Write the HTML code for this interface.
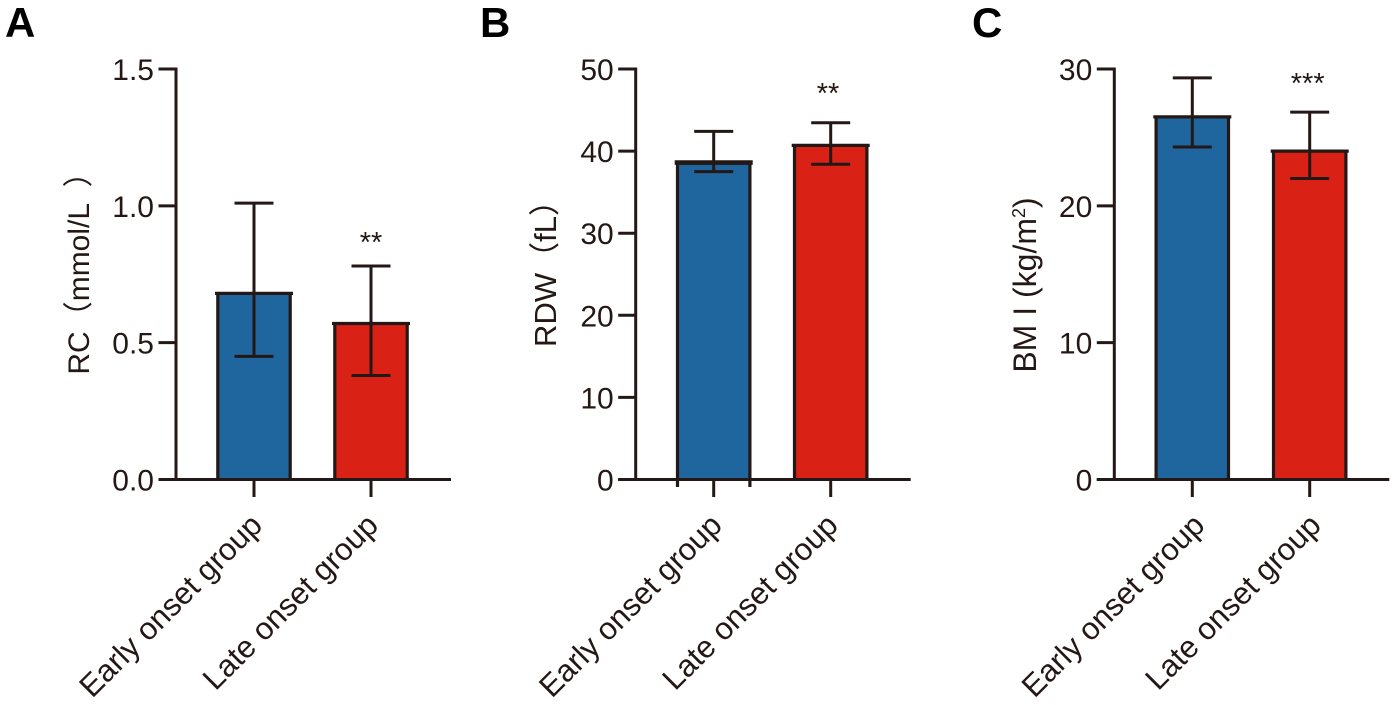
<!DOCTYPE html>
<html>
<head>
<meta charset="utf-8">
<title>Bar charts of RC, RDW and BMI by onset group</title>
<style>
html,body{margin:0;padding:0;background:#fff;width:1395px;height:705px;overflow:hidden}
svg{display:block}
text{font-family:"Liberation Sans","Noto Sans CJK SC",sans-serif;fill:#231815}
</style>
</head>
<body>
<svg id="figure" width="1395" height="705" viewBox="0 0 1395 705" xmlns="http://www.w3.org/2000/svg"></svg>
<script>
const categories = ['Early onset group', 'Late onset group'];

const rcMeans = [0.68, 0.57];
const rcUpper = [1.01, 0.78];
const rcLower = [0.45, 0.38];
const rcTicks = [0, 0.5, 1, 1.5];
const rcTickLabels = ['0.0', '0.5', '1.0', '1.5'];
const rcStars = ['', '**'];

const rdwMeans = [38.6, 40.7];
const rdwUpper = [42.4, 43.45];
const rdwLower = [37.5, 38.4];
const rdwTicks = [0, 10, 20, 30, 40, 50];
const rdwTickLabels = ['0', '10', '20', '30', '40', '50'];
const rdwStars = ['', '**'];

const bmiMeans = [26.5, 24.0];
const bmiUpper = [29.35, 26.85];
const bmiLower = [24.3, 22.0];
const bmiTicks = [0, 10, 20, 30];
const bmiTickLabels = ['0', '10', '20', '30'];
const bmiStars = ['', '***'];

const NS = 'http://www.w3.org/2000/svg';
const INK = '#231815';
const BAR_COLORS = ['#1f669e', '#da2116'];
const Y_TOP = 69, Y_BASE = 479.5;
const fig = document.getElementById('figure');

function el(parent, tag, attrs) {
  const n = document.createElementNS(NS, tag);
  for (const k in attrs) n.setAttribute(k, attrs[k]);
  parent.appendChild(n);
  return n;
}
function line(parent, x1, y1, x2, y2, w) {
  return el(parent, 'line', {x1: x1, y1: y1, x2: x2, y2: y2, stroke: INK, 'stroke-width': w});
}

function drawPanel(p) {
  const g = el(fig, 'g', {});
  
  
  const y = v => Y_BASE - (v / p.max) * (Y_BASE - Y_TOP);

  const letter = el(g, 'text', {x: p.letterX, y: 37, 'font-size': 42, 'font-weight': 'bold', style: 'fill:#000'});
  letter.textContent = p.letter;
  
  

  const title = el(g, 'text', {'font-size': p.titleSize, 'text-anchor': 'middle',
    transform: 'translate(' + p.titleX + ',' + p.titleY + ') rotate(-90)'});
  
  
  p.title.forEach(part => {
    const t = el(title, 'tspan', part.sup ? {'font-size': 18, dy: -11} : (part.after ? {dy: 11} : {}));
    t.style.whiteSpace = 'pre';
    t.textContent = part.text;
  });

  p.means.forEach((m, i) => {
    const cx = p.centers[i];
    const bar = el(g, 'rect', {x: cx - 36.5, y: y(m), width: 73, height: Y_BASE - y(m),
      fill: BAR_COLORS[i], stroke: 'none'});
    
    
    const sideBottom = (p.id === 'rdw' && i === 0) ? 487 : Y_BASE;
    line(g, cx - 36.2, y(m), cx - 36.2, sideBottom, 3.2);
    line(g, cx + 36.2, y(m), cx + 36.2, sideBottom, 3.2);
    line(g, cx - 39, y(m), cx + 39, y(m), (p.id === 'rdw' && i === 0) ? 4.6 : 3.2);

    const err = el(g, 'g', {});
    
    
    line(err, cx, y(p.upper[i]), cx, y(p.lower[i]), 3);
    line(err, cx - 19.5, y(p.upper[i]), cx + 19.5, y(p.upper[i]), 3);
    line(err, cx - 19.5, y(p.lower[i]), cx + 19.5, y(p.lower[i]), 3);

    if (p.stars[i]) {
      const s = el(g, 'text', {x: cx + p.starDx, y: y(p.upper[i]) - p.starGap, 'font-size': 29, 'text-anchor': 'middle'});
      s.textContent = p.stars[i];
      
      
    }

    line(g, cx, Y_BASE, cx, 497, 3);
    const lab = el(g, 'text', {'font-size': 31, 'text-anchor': 'end',
      transform: 'translate(' + (cx + p.labelDx - i) + ',527) rotate(-45)'});
    lab.textContent = categories[i];
    
    
  });

  const yAxis = line(g, p.axisX, Y_TOP - 1.5, p.axisX, Y_BASE + 1.5, 3);
  
  
  const xAxis = line(g, p.axisX - 17.5, Y_BASE, p.axisX + 275, Y_BASE, 3);
  
  

  p.ticks.forEach((v, i) => {
    line(g, p.axisX - 17.5, y(v), p.axisX, y(v), 3);
    const t = el(g, 'text', {x: p.axisX - 22, y: y(v) + 11, 'font-size': 30, 'text-anchor': 'end'});
    t.textContent = p.tickLabels[i];
    
    
  });
}

drawPanel({id: 'rc', letter: 'A', letterX: 5, axisX: 176, centers: [254, 371], max: 1.5,
  means: rcMeans, upper: rcUpper, lower: rcLower, ticks: rcTicks, tickLabels: rcTickLabels, stars: rcStars,
  labelDx: 10, starDx: 0, starGap: 14, titleSize: 30, titleX: 89, titleY: 266, title: [{text: 'RC（mmol/L  ）'}]});
drawPanel({id: 'rdw', letter: 'B', letterX: 480, axisX: 635.7, centers: [713.7, 830.7], max: 50,
  means: rdwMeans, upper: rdwUpper, lower: rdwLower, ticks: rdwTicks, tickLabels: rdwTickLabels, stars: rdwStars,
  labelDx: 10, starDx: -2.7, starGap: 20, titleSize: 31, titleX: 556, titleY: 266, title: [{text: 'RDW（fL）'}]});
drawPanel({id: 'bmi', letter: 'C', letterX: 972, axisX: 1114.3, centers: [1192.3, 1309.7], max: 30,
  means: bmiMeans, upper: bmiUpper, lower: bmiLower, ticks: bmiTicks, tickLabels: bmiTickLabels, stars: bmiStars,
  labelDx: 14, starDx: -2, starGap: 19, titleSize: 32, titleX: 1036, titleY: 285, title: [{text: 'BM I (kg/m'}, {text: '2', sup: true}, {text: ')', after: true}]});
</script>
</body>
</html>
